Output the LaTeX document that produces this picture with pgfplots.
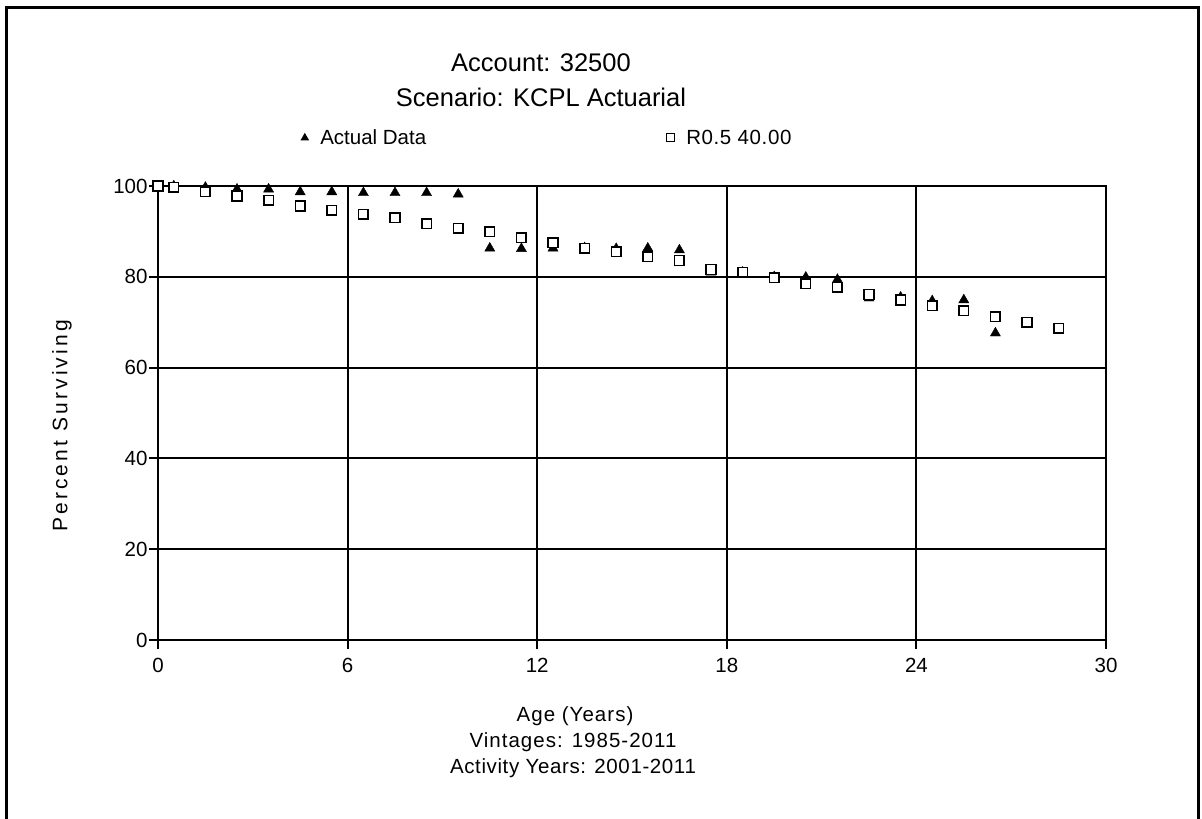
\documentclass[border=0pt]{standalone}
\usepackage{pgfplots}
\pgfplotsset{compat=1.18}
\usepackage{fontspec}
\setmainfont{Liberation Sans}

% Observed survivors (percent) by age
\pgfplotstableread{
age pct
0    100
0.5  100
1.5  99.7
2.5  99.3
3.5  99.3
4.5  98.7
5.5  98.7
6.5  98.5
7.5  98.5
8.5  98.5
9.5  98.2
10.5 86.3
11.5 86.2
12.5 86.3
13.5 86.4
14.5 86.2
15.5 86.3
16.5 85.9
17.5 81.0
18.5 81.0
19.5 80.0
20.5 79.9
21.5 79.4
22.5 75.3
23.5 75.5
24.5 74.7
25.5 74.9
26.5 67.6
}\actual

% Fitted Iowa curve R0.5, 40-year life
\pgfplotstableread{
age pct
0    100
0.5  99.7
1.5  98.7
2.5  97.8
3.5  96.9
4.5  95.6
5.5  94.7
6.5  93.8
7.5  93.0
8.5  91.7
9.5  90.7
10.5 89.9
11.5 88.6
12.5 87.5
13.5 86.3
14.5 85.5
15.5 84.4
16.5 83.6
17.5 81.6
18.5 81.0
19.5 79.8
20.5 78.5
21.5 77.7
22.5 76.1
23.5 74.9
24.5 73.6
25.5 72.5
26.5 71.2
27.5 70.0
28.5 68.7
}\fitted

\begin{document}
\begin{tikzpicture}
\path[use as bounding box] (0pt,0pt) rectangle (1202pt,-819pt);
\draw[line width=3pt] (6pt,-830pt) -- (6pt,-7pt) -- (1198pt,-7pt) -- (1198pt,-830pt);

\node[anchor=base, font=\fontsize{25.5}{30}\selectfont] at (541pt,-71pt) {Account: 32500};
\node[anchor=base, font=\fontsize{25.5}{30}\selectfont] at (541pt,-106pt) {Scenario: KCPL Actuarial};

\node[anchor=base, font=\fontsize{20.5}{24}\selectfont\addfontfeature{LetterSpace=5}] at (575pt,-721pt) {Age (Years)};
\node[anchor=base, font=\fontsize{20.5}{24}\selectfont\addfontfeature{LetterSpace=5}] at (573pt,-747pt) {Vintages: 1985-2011};
\node[anchor=base, font=\fontsize{20.5}{24}\selectfont\addfontfeature{LetterSpace=3}] at (573pt,-773pt) {Activity Years: 2001-2011};

\node[rotate=90, font=\fontsize{21}{26}\selectfont\addfontfeature{LetterSpace=15}] at (62pt,-426pt) {Percent Surviving};

\begin{axis}[
  at={(158pt,-640pt)}, anchor=south west,
  scale only axis, width=948pt, height=454pt,
  xmin=0, xmax=30, ymin=0, ymax=100,
  xtick={0,6,...,30}, ytick={0,20,...,100},
  grid=major,
  major grid style={black, line width=2pt},
  axis line style={black, line width=2pt},
  every tick/.style={black, line width=2pt},
  tick align=outside, major tick length=9pt,
  tick pos=left,
  ticklabel style={font=\fontsize{20.5}{24}\selectfont},
  xticklabel style={yshift=-6pt},
  yticklabel style={xshift=2pt},
  /pgf/number format/assume math mode=true,
  clip=false,
  legend columns=2,
  legend style={draw=none, fill=none, at={(0.151,1.106)}, anchor=west,
    inner sep=0pt, row sep=0pt,
    nodes={inner sep=0pt, font=\fontsize{20.5}{24}\selectfont},
    /tikz/every odd column/.append style={column sep=12pt},
    /tikz/every even column/.append style={column sep=240pt}},
  legend image code/.code={\draw[#1, mark size=4pt, line width=1pt] plot coordinates {(0pt,0pt)};},
]
\addplot[only marks, mark=triangle*, mark size=5.8pt, black] table[x=age, y=pct] {\actual};
\addlegendentry{Actual Data}
\addplot[only marks, mark=square*, mark size=4.8pt, draw=black, fill=white, line width=1.5pt] table[x=age, y=pct] {\fitted};
\addlegendentry{\addfontfeature{LetterSpace=3}R0.5 40.00}
\end{axis}
\end{tikzpicture}
\end{document}
